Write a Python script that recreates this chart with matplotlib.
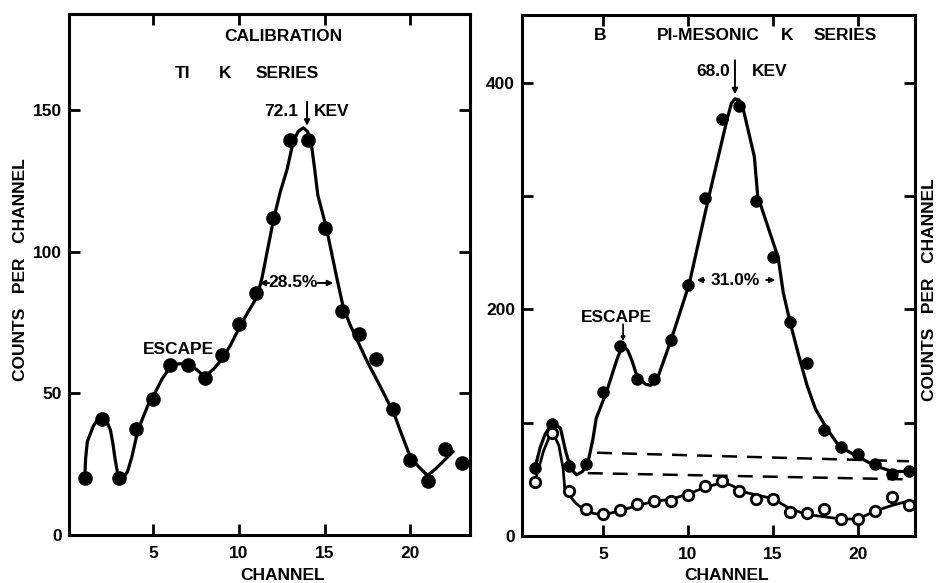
import matplotlib
matplotlib.use("Agg")
import matplotlib.pyplot as plt

plt.rcParams['font.family'] = ['Liberation Sans', 'DejaVu Sans']
plt.rcParams['font.weight'] = 'bold'
plt.rcParams['lines.solid_joinstyle'] = 'round'
plt.rcParams['lines.solid_capstyle'] = 'round'

# ---------------- data: left panel (calibration, Tl K series) ----------------
cal_channels = list(range(1, 24))
cal_counts = [20, 41, 20, 37.5, 48, 60, 60, 55.5, 63.5, 74.5, 85.5, 112, 139.5,
              139.5, 108.5, 79, 71, 62, 44.5, 26.5, 19, 30.5, 25.5]
cal_curve_x = [1.0, 1.05, 1.15, 1.5, 1.8, 2.05, 2.3, 2.5, 2.65, 2.75, 2.95, 3.2,
               3.5, 3.75, 4.1, 4.7, 5.0, 5.5, 6.0, 6.5, 7.0, 7.5, 8.0, 8.5, 9.0,
               9.5, 10.0, 10.5, 11.05, 11.35, 12.0, 12.4, 12.8, 13.15, 13.45,
               13.75, 14.0, 14.2, 14.4, 14.6, 15.1, 15.7, 16.1, 16.5, 17.0, 17.5,
               18.2, 18.7, 19.1, 19.4, 20.0, 20.5, 21.0, 21.5, 22.0, 22.5]
cal_curve_y = [20, 27, 33, 38.5, 41.2, 41.5, 40, 37, 32, 27.6, 20.5, 19.5,
               22.5, 27.6, 37, 46, 49, 55, 59.5, 60.5, 60.3, 58.5, 56, 58.5, 62,
               67, 73, 78.5, 84, 91, 111, 121, 129, 138.5, 142.5,
               143.8, 142.5, 139, 130, 120, 108.5, 91, 80, 74, 67.5, 61,
               53, 47, 42, 37, 27.5, 24, 21, 23.5, 26.5, 29.5]

# ---------------- data: right panel (pi-mesonic K series) ----------------
pi_channels = list(range(1, 24))
pi_counts = [60, 99, 62, 64, 127, 168, 139, 139, 173, 222, 298, 368, 380, 296,
             246, 189, 153, 94, 79, 72, 63.5, 55, 57.5]
pi_curve_x = [1.0, 1.3, 1.6, 1.9, 2.2, 2.5, 2.8, 3.05, 3.25, 3.45, 3.8, 4.1, 4.4,
              4.6, 5.2, 5.8, 6.0, 6.2, 6.45, 6.7, 7.0, 7.5, 7.8, 8.2, 9.0, 10.06,
              11.2, 12.3, 12.55, 12.76, 13.0, 13.2, 13.9, 14.1, 15.3, 15.6, 16.0,
              16.5, 17.0, 17.5, 18.2, 18.9, 20.0, 21.0, 22.0, 23.0]
pi_curve_y = [60, 78, 90, 97, 99, 95, 75, 62, 57, 54, 57, 64, 85,
              104, 127, 155, 163, 168, 164, 155, 141, 134, 133, 139, 173, 222,
              298, 368, 382, 386, 385, 380, 335, 300, 246, 215, 189,
              160, 133, 112, 94, 79, 70, 62, 57, 57]
bg_channels = list(range(1, 24))
bg_counts = [48, 91, 40, 24, 19, 23, 28, 31, 31, 36, 44, 49, 40, 33, 33, 21, 20,
             24, 15, 15, 22, 34, 27]
bg_curve_x = [1.0, 1.5, 1.8, 2.06, 2.4, 2.65, 2.75, 3.0, 3.4, 3.8, 4.3, 4.9, 6.0,
              7.0, 8.0, 9.0, 10.0, 11.0, 12.0, 12.5, 13.5, 15.0, 16.0, 17.0, 18.0,
              19.0, 20.0, 21.0, 22.0, 23.0]
bg_curve_y = [48, 75, 86, 91, 80, 60, 42, 36, 29, 24, 20.5, 18.5, 22,
              27, 30.5, 32.5, 37, 43, 47, 45, 38, 33, 24, 19, 17,
              15, 15, 22, 27, 31]
dash_upper_x = [4.65, 23.0]
dash_upper_y = [73.5, 66]
dash_lower_x = [4.1, 23.0]
dash_lower_y = [55.5, 50]

cal_yticks = [0, 50, 100, 150]
cal_yticklabels = ['0', '50', '100', '150']
pi_yticks = [0, 100, 200, 300, 400]
pi_yticklabels = ['0', '', '200', '', '400']
xticks = [5, 10, 15, 20]
xticklabels = ['5', '10', '15', '20']

W, H = 939, 583
fig = plt.figure(figsize=(W / 100, H / 100), dpi=100)


def px_axes(l, t, r, b):
    return fig.add_axes([l / W, 1 - b / H, (r - l) / W, (b - t) / H])


def style(ax):
    for s in ax.spines.values():
        s.set_linewidth(2.2)
        s.set_color('black')
    ax.tick_params(direction='in', length=8, width=2, top=True, right=True,
                   labelsize=12.5, colors='black')
    ax.tick_params(axis='x', pad=8)
    ax.tick_params(axis='y', pad=5)
    ax.set_xticks(xticks)
    ax.set_xticklabels(xticklabels, fontweight='bold')


TS = 12.5
arrow_kw = dict(arrowstyle='-|>', color='black', lw=1.4, mutation_scale=8,
                shrinkA=0, shrinkB=0)

# ---------------- left panel ----------------
ax1 = px_axes(69, 14, 470, 535)
ax1.plot(cal_curve_x, cal_curve_y, color='black', lw=2.3)
ax1.plot(cal_channels, cal_counts, 'o', color='black', ms=9.5)
ax1.set_xlim(0.08, 23.48)
ax1.set_ylim(0, 184)
style(ax1)
ax1.set_yticks(cal_yticks)
ax1.set_yticklabels(cal_yticklabels, fontweight='bold')

ax1.text(12.6, 176, 'CALIBRATION', ha='center', va='center', fontsize=TS)
ax1.text(6.68, 163, 'TI', ha='center', va='center', fontsize=TS)
ax1.text(9.18, 163, 'K', ha='center', va='center', fontsize=TS)
ax1.text(12.8, 163, 'SERIES', ha='center', va='center', fontsize=TS)
ax1.text(13.45, 149.5, '72.1', ha='right', va='center', fontsize=TS)
ax1.text(14.35, 149.5, 'KEV', ha='left', va='center', fontsize=TS)
ax1.annotate('', xy=(13.97, 144.5), xytext=(13.97, 153), arrowprops=arrow_kw)
ax1.text(13.15, 89, '28.5%', ha='center', va='center', fontsize=TS)
ax1.annotate('', xy=(11.2, 89), xytext=(11.75, 89), arrowprops=arrow_kw)
ax1.annotate('', xy=(15.5, 89), xytext=(14.6, 89), arrowprops=arrow_kw)
ax1.text(6.45, 65.4, 'ESCAPE', ha='center', va='center', fontsize=TS)

# ---------------- right panel ----------------
ax2 = px_axes(522, 15, 915, 536)
ax2.plot(dash_upper_x, dash_upper_y, color='black', lw=1.8, dashes=(6, 4))
ax2.plot(dash_lower_x, dash_lower_y, color='black', lw=1.8, dashes=(6, 4))
ax2.plot(pi_curve_x, pi_curve_y, color='black', lw=2.3)
ax2.plot(bg_curve_x, bg_curve_y, color='black', lw=2.0)
ax2.plot(pi_channels, pi_counts, 'o', color='black', ms=8)
ax2.plot(bg_channels, bg_counts, 'o', mfc='white', mec='black', mew=2, ms=7.5)
ax2.set_xlim(0.235, 23.35)
ax2.set_ylim(0, 460)
style(ax2)
ax2.set_yticks(pi_yticks)
ax2.set_yticklabels(pi_yticklabels, fontweight='bold')

ax2.text(4.85, 442, 'B', ha='center', va='center', fontsize=TS)
ax2.text(11.2, 442, 'PI-MESONIC', ha='center', va='center', fontsize=TS)
ax2.text(15.8, 442, 'K', ha='center', va='center', fontsize=TS)
ax2.text(19.25, 442, 'SERIES', ha='center', va='center', fontsize=TS)
ax2.text(12.5, 410, '68.0', ha='right', va='center', fontsize=TS)
ax2.text(13.75, 410, 'KEV', ha='left', va='center', fontsize=TS)
ax2.annotate('', xy=(12.76, 390), xytext=(12.76, 420), arrowprops=arrow_kw)
ax2.text(12.76, 226, '31.0%', ha='center', va='center', fontsize=TS)
ax2.annotate('', xy=(10.5, 226), xytext=(10.95, 226), arrowprops=arrow_kw)
ax2.annotate('', xy=(15.15, 226), xytext=(14.6, 226), arrowprops=arrow_kw)
ax2.text(5.8, 193, 'ESCAPE', ha='center', va='center', fontsize=TS)
ax2.annotate('', xy=(6.18, 172), xytext=(6.18, 187),
             arrowprops=dict(arrowstyle='-|>', color='black', lw=1.2,
                             mutation_scale=6, shrinkA=0, shrinkB=0))

# ---------------- axis labels ----------------
fig.text(283 / W, 1 - 575 / H, 'CHANNEL', ha='center', va='center', fontsize=TS)
fig.text(727 / W, 1 - 575 / H, 'CHANNEL', ha='center', va='center', fontsize=TS)
fig.text(21 / W, 1 - 270 / H, 'COUNTS   PER   CHANNEL', ha='center', va='center',
         rotation=90, fontsize=TS)
fig.text(930 / W, 1 - 290 / H, 'COUNTS   PER   CHANNEL', ha='center', va='center',
         rotation=90, fontsize=TS)

fig.savefig('out.png', dpi=100)
